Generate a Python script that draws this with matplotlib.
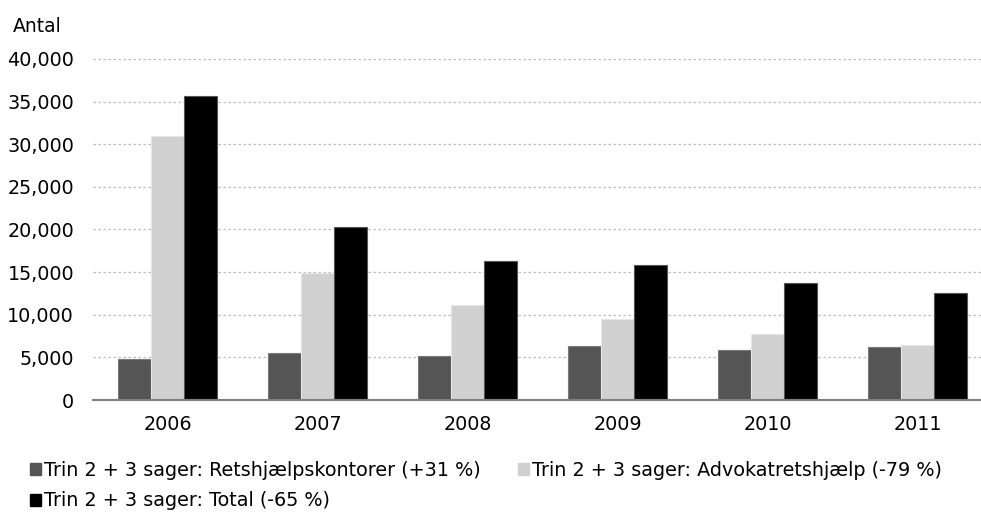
import numpy as np
import matplotlib
matplotlib.use('Agg')
import matplotlib.pyplot as plt
from matplotlib.patches import Patch

years = ['2006', '2007', '2008', '2009', '2010', '2011']
retshjaelp = [4800, 5500, 5200, 6300, 5900, 6200]
advokat = [31000, 14900, 11100, 9500, 7800, 6400]
total = [35700, 20300, 16300, 15800, 13700, 12600]

labels = ['Trin 2 + 3 sager: Retshjælpskontorer (+31 %)',
          'Trin 2 + 3 sager: Advokatretshjælp (-79 %)',
          'Trin 2 + 3 sager: Total (-65 %)']
colors = ['#555555', '#d0d0d0', '#000000']
edges = ['#7a7a7a', '#e6e6e6', '#555555']

plt.rcParams['font.family'] = ['DejaVu Sans']
fs = 13.75

fig = plt.figure(figsize=(9.81, 5.13), dpi=100)
ax = fig.add_axes([92.5 / 981, 113 / 513, 900 / 981, 341 / 513])

x = np.arange(len(years))
w = 0.2222
series = [retshjaelp, advokat, total]
for i, vals in enumerate(series):
    ax.bar(x + (i - 1) * w, vals, w, color=colors[i], edgecolor=edges[i],
           linewidth=0.8, zorder=3)

ax.set_xlim(-0.5, 5.5)
ax.set_ylim(0, 40000)
ax.set_yticks(np.arange(0, 40001, 5000))
ax.set_yticklabels([f'{v:,}' for v in range(0, 40001, 5000)])
ax.set_xticks(x)
ax.set_xticklabels(years)
ax.tick_params(axis='both', length=0, labelsize=fs, colors='#000000')
ax.tick_params(axis='y', pad=13.3)
ax.tick_params(axis='x', pad=11)

ax.grid(axis='y', color='#bdbdbd', linestyle=(0, (2, 2)), linewidth=0.9, zorder=0)
for s in ['top', 'right', 'left']:
    ax.spines[s].set_visible(False)
ax.spines['bottom'].set_color('#808080')
ax.spines['bottom'].set_linewidth(1.5)
ax.spines['bottom'].set_zorder(4)

fig.text(13 / 981, 1 - 26 / 513, 'Antal', fontsize=13.5, va='center', ha='left')

handles = [Patch(facecolor=c, edgecolor=c) for c in colors]
order = [0, 2, 1]
fig.legend([handles[i] for i in order], [labels[i] for i in order],
           ncol=2, loc='upper left', bbox_to_anchor=(30 / 981, 1 - 461 / 513),
           frameon=False, fontsize=fs, handlelength=0.58, handleheight=0.58,
           handletextpad=0.16, columnspacing=1.95, labelspacing=0.6,
           borderaxespad=0, borderpad=0)

fig.savefig('out.png', dpi=100)
